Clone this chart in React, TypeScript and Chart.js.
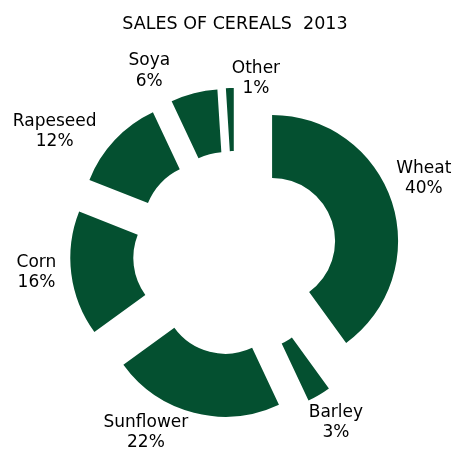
import { useEffect, useRef } from 'react';
import { Chart, registerables } from 'chart.js';

Chart.register(...registerables);

// ---- data ----
const categories = ['Wheat', 'Barley', 'Sunflower', 'Corn', 'Rapeseed', 'Soya', 'Other'];
const shares = [40, 3, 22, 16, 12, 6, 1];
const chartTitle = 'SALES OF CEREALS  2013';

// ---- style ----
const GREEN = '#045030';
const TEXT = '#000000';
const EXPLODE = 39;
const FONT = "'DejaVu Sans', Verdana, sans-serif";
const LABEL_SIZE = 17;
const TITLE_SIZE = 17.5;

export default function App() {
  const ref = useRef<HTMLCanvasElement>(null);

  useEffect(() => {
    if (!ref.current) return;

    const explodePlugin = {
      id: 'explodeSlices',
      afterDatasetsUpdate(chart: any) {
        const meta = chart.getDatasetMeta(0);
        meta.data.forEach((el: any) => {
          const mid = (el.startAngle + el.endAngle) / 2;
          el.x += Math.cos(mid) * EXPLODE;
          el.y += Math.sin(mid) * EXPLODE;
        });
      },
    };

    const labelPlugin = {
      id: 'outsideLabels',
      afterDatasetsDraw(chart: any) {
        const ctx: CanvasRenderingContext2D = chart.ctx;
        const meta = chart.getDatasetMeta(0);
        const total = shares.reduce((a, b) => a + b, 0);
        ctx.save();
        ctx.fillStyle = TEXT;
        ctx.textAlign = 'center';
        ctx.textBaseline = 'alphabetic';
        ctx.font = `${LABEL_SIZE}px ${FONT}`;
        const capH = LABEL_SIZE * 0.73;
        const lh = LABEL_SIZE * 1.2;
        const h = capH + lh;
        meta.data.forEach((el: any, i: number) => {
          const mid = (el.startAngle + el.endAngle) / 2;
          const ux = Math.cos(mid);
          const uy = Math.sin(mid);
          const ax = el.x + ux * el.outerRadius;
          const ay = el.y + uy * el.outerRadius;
          const l1 = categories[i];
          const l2 = Math.round((shares[i] / total) * 100) + '%';
          const w = Math.max(ctx.measureText(l1).width, ctx.measureText(l2).width);
          let cx: number;
          let cy: number;
          if (Math.abs(ux) < 0.1) {
            // near the top / bottom: box beside the anchor
            cx = ax + w / 2 + 2;
            cy = ay + uy * (h / 2 - 5);
          } else if (ux > 0) {
            cx = ax + ux * (6 + w / 2);
            cy = ay + (uy - 0.27) * 44;
          } else {
            const sx = Math.max(-1, ux * 4);
            const gap = 15 - 10 * uy * uy * uy;
            cx = ax + sx * (gap + w / 2);
            cy = ay + 23 * uy * uy * uy - 3;
          }
          const top = cy - h / 2;
          ctx.fillText(l1, cx, top + capH);
          ctx.fillText(l2, cx, top + capH + lh);
        });
        const area = chart.chartArea;
        ctx.font = `${TITLE_SIZE}px ${FONT}`;
        ctx.fillText(chartTitle, (area.left + area.right) / 2, 29);
        ctx.restore();
      },
    };

    const chart = new Chart(ref.current, {
      type: 'doughnut',
      data: {
        labels: categories,
        datasets: [
          {
            data: shares,
            backgroundColor: GREEN,
            borderWidth: 0,
            hoverOffset: 0,
          },
        ],
      },
      options: {
        responsive: false,
        animation: false,
        radius: 126,
        cutout: '50%',
        layout: { padding: { left: 17, right: 0, top: 51, bottom: 0 } },
        plugins: {
          legend: { display: false },
          tooltip: { enabled: false },
          title: { display: false },
        },
        events: [],
      } as any,
      plugins: [explodePlugin, labelPlugin],
    });

    return () => chart.destroy();
  }, []);

  return (
    <div style={{ position: 'fixed', left: 0, top: 0, width: 453, height: 455, background: '#fff' }}>
      <canvas ref={ref} width={453} height={455} style={{ width: 453, height: 455, display: 'block' }} />
    </div>
  );
}
